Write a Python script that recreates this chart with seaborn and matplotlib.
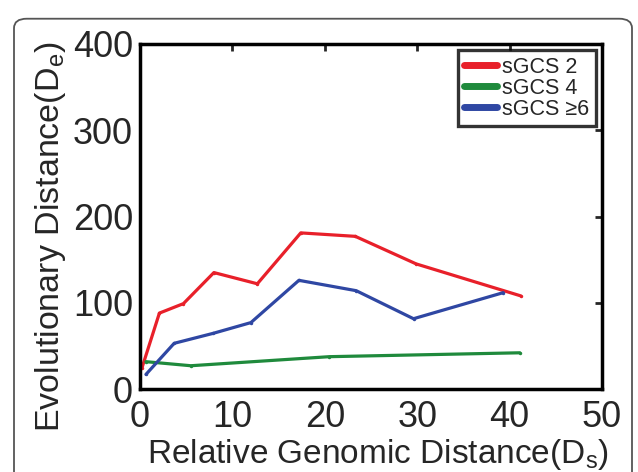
import numpy as np
import pandas as pd
import seaborn as sns
import matplotlib.pyplot as plt
from matplotlib.patches import FancyBboxPatch

# values
red_x = [0.2, 2.1, 4.7, 8.0, 12.7, 17.4, 23.3, 29.9, 41.2]
red_y = [24, 88, 99, 135, 122, 181, 177, 145, 108]
green_x = [0.65, 5.5, 20.5, 41.1]
green_y = [31.7, 27, 37.5, 42]
blue_x = [0.65, 3.7, 7.9, 12.0, 17.2, 23.4, 29.6, 39.3]
blue_y = [17, 53, 64.5, 77, 126, 114, 81.5, 111.7]
labels = ['sGCS 2', 'sGCS 4', 'sGCS \u22656']
colors = ['#e8202a', '#1f8a3c', '#2f47a3']

df = pd.concat([
    pd.DataFrame({'x': red_x, 'y': red_y, 'series': labels[0]}),
    pd.DataFrame({'x': green_x, 'y': green_y, 'series': labels[1]}),
    pd.DataFrame({'x': blue_x, 'y': blue_y, 'series': labels[2]}),
])

sns.set_style('white')
plt.rcParams['font.family'] = ['Liberation Sans', 'DejaVu Sans']
plt.rcParams['mathtext.fontset'] = 'custom'
plt.rcParams['mathtext.rm'] = 'Liberation Sans'

fig = plt.figure(figsize=(6.38, 4.72), dpi=100)
ax = fig.add_axes([0.2194, 0.1758, 0.7242, 0.731])

sns.lineplot(data=df, x='x', y='y', hue='series', palette=dict(zip(labels, colors)),
             estimator=None, sort=False, linewidth=2.3, marker='o', markersize=2.5,
             markeredgewidth=0, ax=ax)

ax.set_xlim(0, 50)
ax.set_ylim(0, 400)
ax.set_xticks([0, 10, 20, 30, 40, 50])
ax.set_yticks([0, 100, 200, 300, 400])
ax.tick_params(direction='in', length=5, width=2, labelsize=26,
               top=True, right=True)
ax.tick_params(axis='x', pad=8)
ax.tick_params(axis='y', pad=5)
for s in ax.spines.values():
    s.set_linewidth(2.5)
    s.set_color('black')

ax.set_xlabel('Relative Genomic Distance(D$_\\mathregular{s}$)', fontsize=24)
ax.set_ylabel('Evolutionary Distance(D$_\\mathregular{e}$)', fontsize=24.5)
ax.xaxis.set_label_coords(0.515, -0.138)
ax.yaxis.set_label_coords(-0.155, 0.44)

leg = ax.legend(loc='upper right', fontsize=15.5, frameon=True, fancybox=False,
                handlelength=1.5, handletextpad=0.25, borderpad=0.3, labelspacing=0.0,
                borderaxespad=0.3)
leg.get_frame().set_edgecolor('black')
leg.get_frame().set_linewidth(2.4)
for h in leg.get_lines():
    h.set_linewidth(5)
    h.set_marker('')

# rounded panel border
fig.patches.append(FancyBboxPatch((14 / 638, -0.05), 618 / 638, 1.02 - 14 / 472 + 0.02,
                                  boxstyle='round,pad=0,rounding_size=0.02',
                                  transform=fig.transFigure, fill=False,
                                  edgecolor='#555555', linewidth=1.3))

fig.savefig('out.png', dpi=100)
